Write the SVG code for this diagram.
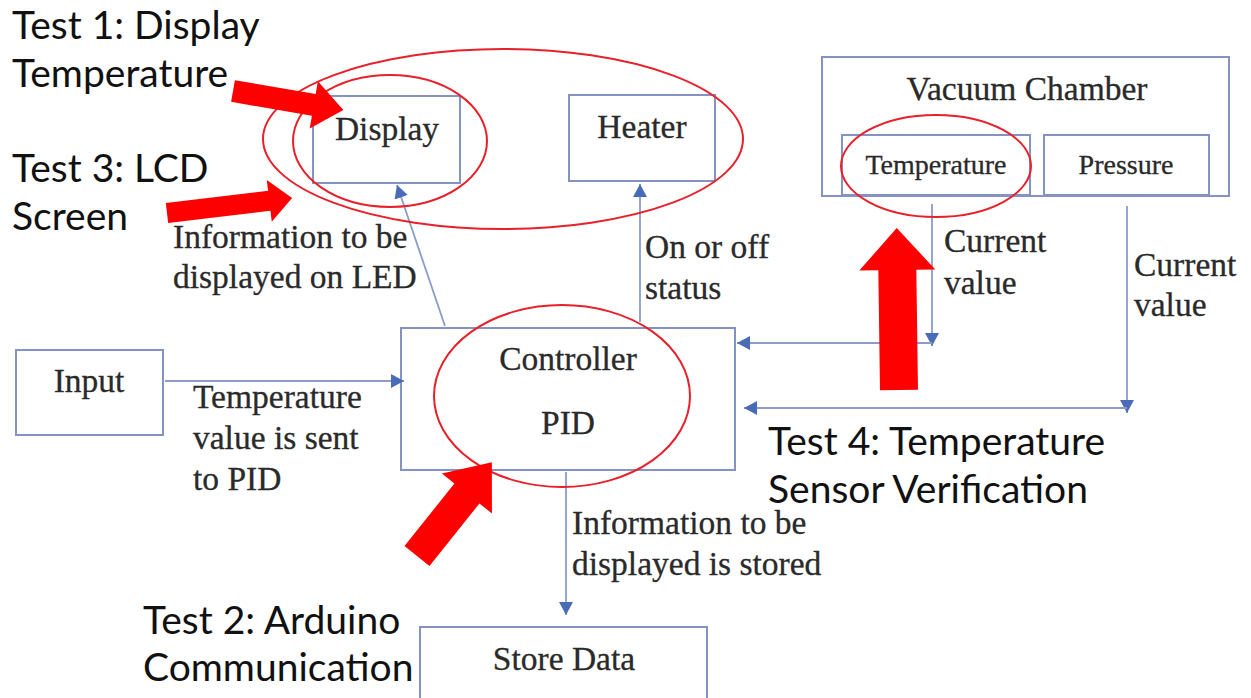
<svg xmlns="http://www.w3.org/2000/svg" width="1251" height="698" viewBox="0 0 1251 698">
<style>
.box{fill:#fff;stroke:#8593c4;stroke-width:2}
.lbl{font-family:"Liberation Serif","Times New Roman",serif;font-size:33.5px;fill:#2a2a2a;stroke:#2a2a2a;stroke-width:0.3}
.sm{font-size:28px}
.conn{stroke:#8c9bcc;stroke-width:1.8;fill:none}
.test{font-family:Lato,"Open Sans",sans-serif;font-size:39px;fill:#111}
.ring{fill:none;stroke:#e8202a;stroke-width:2}
.red{fill:#ff0000}
</style>
<defs>
<marker id="ah" markerUnits="userSpaceOnUse" markerWidth="14" markerHeight="14" refX="13" refY="7" orient="auto">
<path d="M0,0 L13,7 L0,14 z" fill="#4a6cb8"/>
</marker>
</defs>
<rect width="1251" height="698" fill="#fff"/>

<g id="display"><rect class="box" x="313" y="96" width="147" height="87"/><text class="lbl" x="387" y="140" text-anchor="middle">Display</text></g>
<g id="heater"><rect class="box" x="569" y="95" width="146" height="86"/><text class="lbl" x="642" y="138" text-anchor="middle">Heater</text></g>
<g id="vacuum"><rect class="box" x="822" y="57" width="407" height="139"/><text class="lbl" x="1027" y="100" text-anchor="middle">Vacuum Chamber</text></g>
<g id="temperature"><rect class="box" x="842" y="135" width="188" height="60"/><text class="lbl sm" x="936" y="174" text-anchor="middle">Temperature</text></g>
<g id="pressure"><rect class="box" x="1044" y="135" width="165" height="60"/><text class="lbl sm" x="1126" y="174" text-anchor="middle">Pressure</text></g>
<g id="input"><rect class="box" x="16" y="350" width="147" height="85"/><text class="lbl" x="89" y="392" text-anchor="middle">Input</text></g>
<g id="controller"><rect class="box" x="401" y="328" width="334" height="142"/><text class="lbl" x="568" y="370" text-anchor="middle">Controller</text><text class="lbl" x="568" y="434" text-anchor="middle">PID</text></g>
<g id="store"><rect class="box" x="420" y="627" width="287" height="80"/><text class="lbl" x="564" y="670" text-anchor="middle">Store Data</text></g>

<g id="connectors">
<path class="conn" d="M445,326 L397,185" marker-end="url(#ah)"/>
<path class="conn" d="M640,322 L640,184" marker-end="url(#ah)"/>
<path class="conn" d="M165,381 L404,381" marker-end="url(#ah)"/>
<path class="conn" d="M932,204 L932,346" marker-end="url(#ah)"/>
<path class="conn" d="M932,343 L737,343" marker-end="url(#ah)"/>
<path class="conn" d="M1127,206 L1127,413" marker-end="url(#ah)"/>
<path class="conn" d="M1127,408 L744,408" marker-end="url(#ah)"/>
<path class="conn" d="M566,472 L566,615" marker-end="url(#ah)"/>
</g>

<g id="connector-labels">
<text class="lbl" x="173" y="248">Information to be</text>
<text class="lbl" x="173" y="288">displayed on LED</text>
<text class="lbl" x="645" y="258">On or off</text>
<text class="lbl" x="645" y="299">status</text>
<text class="lbl" x="944" y="252">Current</text>
<text class="lbl" x="944" y="294">value</text>
<text class="lbl" x="1134" y="276">Current</text>
<text class="lbl" x="1134" y="316">value</text>
<text class="lbl" x="193" y="408">Temperature</text>
<text class="lbl" x="193" y="449">value is sent</text>
<text class="lbl" x="193" y="490">to PID</text>
<text class="lbl" x="572" y="534">Information to be</text>
<text class="lbl" x="572" y="575">displayed is stored</text>
</g>

<g id="annotations">
<ellipse class="ring" cx="503" cy="139" rx="240" ry="90"/>
<ellipse class="ring" cx="390" cy="141" rx="97" ry="66"/>
<ellipse class="ring" cx="936" cy="166" rx="95" ry="51"/>
<ellipse class="ring" cx="562" cy="396" rx="128" ry="91"/>
<polygon class="red" transform="translate(233,91) rotate(9.8)" points="0,-11 82,-11 82,-24 112,0 82,24 82,11 0,11"/>
<polygon class="red" transform="translate(167,213) rotate(-6.8)" points="0,-10 103,-10 103,-21 126,0 103,21 103,10 0,10"/>
<polygon class="red" transform="translate(899,390) rotate(-90.8)" points="0,-19 120,-19 120,-38 162,0 120,38 120,19 0,19"/>
<polygon class="red" transform="translate(417,556) rotate(-51.4)" points="0,-16 80,-16 80,-32 120,0 80,32 80,16 0,16"/>
<text class="test" x="12" y="39">Test 1: Display</text>
<text class="test" x="12" y="87">Temperature</text>
<text class="test" x="12" y="182">Test 3: LCD</text>
<text class="test" x="12" y="230">Screen</text>
<text class="test" x="143" y="634">Test 2: Arduino</text>
<text class="test" x="143" y="681">Communication</text>
<text class="test" x="768" y="455">Test 4: Temperature</text>
<text class="test" x="768" y="503">Sensor Verification</text>
</g>
</svg>
